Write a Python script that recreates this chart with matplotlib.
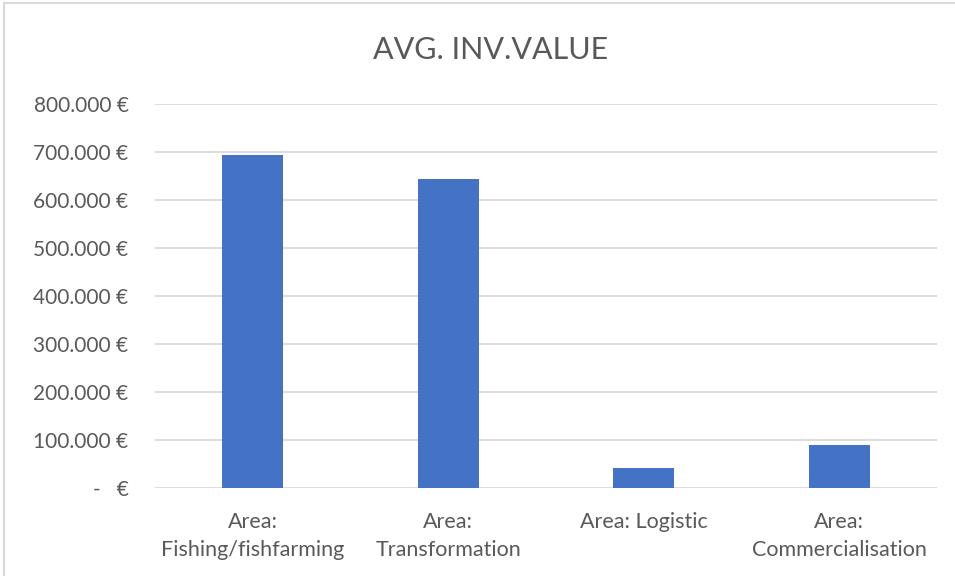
import matplotlib

matplotlib.use('Agg')

import matplotlib.pyplot as plt
from matplotlib.patches import Rectangle
from matplotlib.ticker import FuncFormatter

# Average investment value per area (EUR)
categories = ['Area:\nFishing/fishfarming', 'Area:\nTransformation',
              'Area: Logistic', 'Area:\nCommercialisation']
avg_inv_value = [694000, 644000, 42000, 90000]
y_ticks = [0, 100000, 200000, 300000, 400000, 500000, 600000, 700000, 800000]

BAR_COLOR = '#4472C4'
TEXT_COLOR = '#595959'
GRID_COLOR = '#D9D9D9'

plt.rcParams['font.family'] = ['Lato', 'DejaVu Sans']


def eur_fmt(v, _pos):
    if v == 0:
        return '-   €'
    return f'{int(v):,} €'.replace(',', '.')


fig = plt.figure(figsize=(9.55, 5.76), dpi=100)
ax = fig.add_axes([0.1623, 0.1523, 0.8189, 0.6671])

x = range(len(categories))
ax.bar(x, avg_inv_value, width=0.31, color=BAR_COLOR, zorder=3)

ax.set_xlim(-0.5, len(categories) - 0.5)
ax.set_ylim(0, 800000)
ax.set_yticks(y_ticks)
ax.yaxis.set_major_formatter(FuncFormatter(eur_fmt))
ax.set_xticks(list(x))
ax.set_xticklabels(categories, linespacing=1.5)

ax.grid(axis='y', color=GRID_COLOR, linewidth=1.3, zorder=0)
for side in ('top', 'right', 'left', 'bottom'):
    ax.spines[side].set_visible(False)
ax.tick_params(axis='both', length=0, labelsize=15.5, colors=TEXT_COLOR)
ax.tick_params(axis='y', labelsize=15, pad=19)
ax.tick_params(axis='x', pad=17)

fig.text(0.5136, 0.914, 'AVG. INV.VALUE', ha='center', va='center',
         fontsize=22, color=TEXT_COLOR)

# light frame around the chart area
fig.patches.append(Rectangle((0.004, -0.01), 1.1, 1.005, transform=fig.transFigure,
                             fill=False, edgecolor=GRID_COLOR, linewidth=1.5))

fig.savefig('out.png', dpi=100)
